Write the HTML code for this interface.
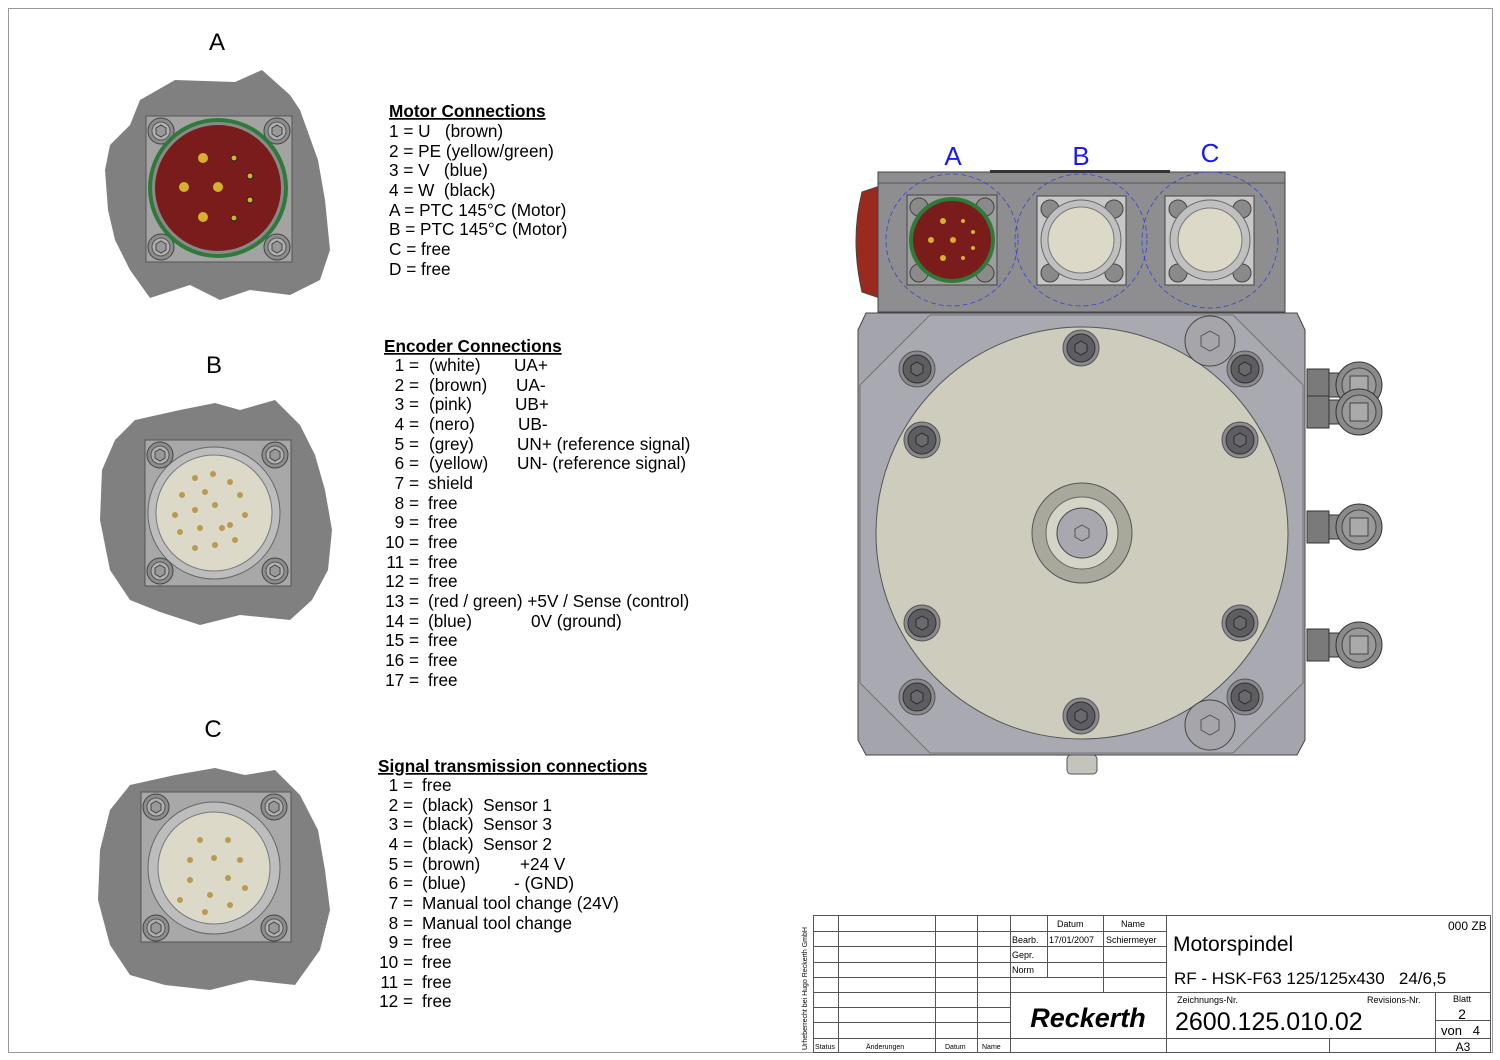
<!DOCTYPE html>
<html><head><meta charset="utf-8"><style>
html,body{margin:0;padding:0;background:#fff}
svg{display:block}
text{font-family:"Liberation Sans",Arial,sans-serif;fill:#000}
</style></head><body>
<svg width="1500" height="1060" viewBox="0 0 1500 1060" xmlns="http://www.w3.org/2000/svg">
<defs>
<g id="bolt"><circle r="18" fill="#8a8a8e" stroke="#555" stroke-width="1"/><circle r="14" fill="#5e5e62" stroke="#333" stroke-width="1"/><polygon points="0,-7 6,-3.5 6,3.5 0,7 -6,3.5 -6,-3.5" fill="#6a6a6e" stroke="#2a2a2a"/></g>
<g id="sbolt"><circle r="13" fill="#8c8c8c" stroke="#444"/><circle r="9" fill="#b0b0b0" stroke="#555"/><polygon points="0,-6 5,-3 5,3 0,6 -5,3 -5,-3" fill="#999" stroke="#444"/></g>
<g id="fit"><rect x="0" y="-16" width="22" height="32" fill="#7a7a7a" stroke="#333"/><rect x="22" y="-12" width="30" height="24" fill="#888" stroke="#333"/><circle cx="52" cy="0" r="23" fill="#8a8a8a" stroke="#333"/><circle cx="52" cy="0" r="17" fill="#999" stroke="#444"/><rect x="43" y="-9" width="18" height="18" fill="#aaa" stroke="#444"/></g>
</defs>
<rect x="8.5" y="8.5" width="1484" height="1044" fill="none" stroke="#999" stroke-width="1"/>

<text x="217" y="50" font-size="24" text-anchor="middle">A</text>
<text x="214" y="373" font-size="24" text-anchor="middle">B</text>
<text x="213" y="737" font-size="24" text-anchor="middle">C</text>

<polygon points="140,100 175,80 235,82 262,70 290,95 300,110 318,160 325,200 330,250 320,280 290,295 250,290 220,300 190,285 150,298 130,270 115,240 108,210 105,170 110,145 130,125" fill="#808080"/>
<rect x="146" y="116" width="146" height="146" fill="#a3a3a3" stroke="#555"/>
<use href="#sbolt" x="161" y="131"/><use href="#sbolt" x="277" y="131"/><use href="#sbolt" x="161" y="247"/><use href="#sbolt" x="277" y="247"/>
<circle cx="218" cy="188" r="70" fill="#2f7a3a"/><circle cx="218" cy="188" r="66" fill="#8a8a8a"/><circle cx="218" cy="188" r="63" fill="#7a1c1c"/>
<circle cx="203" cy="158" r="5" fill="#d8b030"/><circle cx="184" cy="187" r="5" fill="#d8b030"/><circle cx="218" cy="187" r="5" fill="#d8b030"/><circle cx="203" cy="217" r="5" fill="#d8b030"/>
<circle cx="234" cy="158" r="3" fill="#d8b030" stroke="#222"/><circle cx="250" cy="176" r="3" fill="#d8b030" stroke="#222"/><circle cx="250" cy="200" r="3" fill="#d8b030" stroke="#222"/><circle cx="234" cy="218" r="3" fill="#d8b030" stroke="#222"/>

<polygon points="135,420 180,410 215,403 240,410 275,400 300,425 315,455 325,490 332,530 328,570 312,600 290,620 240,615 200,625 160,612 130,600 110,570 100,520 102,470 115,440" fill="#808080"/>
<rect x="145" y="440" width="146" height="146" fill="#a8a8a8" stroke="#555"/>
<use href="#sbolt" x="160" y="455"/><use href="#sbolt" x="275" y="455"/><use href="#sbolt" x="160" y="571"/><use href="#sbolt" x="275" y="571"/>
<circle cx="214" cy="513" r="66" fill="#bdbdbd" stroke="#666"/><circle cx="214" cy="513" r="58" fill="#ddd9c8" stroke="#777"/>
<g fill="#b89a50"><circle cx="195" cy="478" r="3"/><circle cx="213" cy="474" r="3"/><circle cx="230" cy="482" r="3"/><circle cx="182" cy="495" r="3"/><circle cx="205" cy="492" r="3"/><circle cx="240" cy="495" r="3"/><circle cx="175" cy="515" r="3"/><circle cx="195" cy="510" r="3"/><circle cx="215" cy="505" r="3"/><circle cx="245" cy="515" r="3"/><circle cx="180" cy="532" r="3"/><circle cx="200" cy="528" r="3"/><circle cx="230" cy="525" r="3"/><circle cx="195" cy="548" r="3"/><circle cx="215" cy="545" r="3"/><circle cx="235" cy="540" r="3"/><circle cx="222" cy="528" r="3"/></g>

<polygon points="130,785 175,775 215,768 245,775 275,770 300,795 318,830 325,870 330,910 320,950 295,985 250,980 210,990 165,985 130,975 110,945 98,900 100,850 110,810" fill="#808080"/>
<rect x="141" y="792" width="150" height="150" fill="#a8a8a8" stroke="#555"/>
<use href="#sbolt" x="156" y="807"/><use href="#sbolt" x="274" y="807"/><use href="#sbolt" x="156" y="928"/><use href="#sbolt" x="274" y="928"/>
<circle cx="214" cy="868" r="66" fill="#bdbdbd" stroke="#666"/><circle cx="214" cy="868" r="56" fill="#ddd9c8" stroke="#777"/>
<g fill="#b89a50"><circle cx="200" cy="840" r="3"/><circle cx="228" cy="840" r="3"/><circle cx="190" cy="860" r="3"/><circle cx="214" cy="858" r="3"/><circle cx="240" cy="860" r="3"/><circle cx="190" cy="880" r="3"/><circle cx="228" cy="878" r="3"/><circle cx="180" cy="900" r="3"/><circle cx="210" cy="895" r="3"/><circle cx="230" cy="905" r="3"/><circle cx="245" cy="888" r="3"/><circle cx="205" cy="912" r="3"/></g>

<g font-size="17.2">
<text x="389" y="117" font-weight="bold" text-decoration="underline">Motor Connections</text>
<text x="389" y="137" xml:space="preserve">1 = U   (brown)</text>
<text x="389" y="157">2 = PE (yellow/green)</text>
<text x="389" y="176" xml:space="preserve">3 = V   (blue)</text>
<text x="389" y="196" xml:space="preserve">4 = W  (black)</text>
<text x="389" y="216">A = PTC 145°C (Motor)</text>
<text x="389" y="235">B = PTC 145°C (Motor)</text>
<text x="389" y="255">C = free</text>
<text x="389" y="275">D = free</text>

<text x="384" y="352" font-weight="bold" text-decoration="underline">Encoder Connections</text>
<g text-anchor="end">
<text x="419" y="371">1 =</text><text x="419" y="391">2 =</text><text x="419" y="410">3 =</text><text x="419" y="430">4 =</text><text x="419" y="450">5 =</text><text x="419" y="469">6 =</text><text x="419" y="489">7 =</text><text x="419" y="509">8 =</text><text x="419" y="528">9 =</text><text x="419" y="548">10 =</text><text x="419" y="568">11 =</text><text x="419" y="587">12 =</text><text x="419" y="607">13 =</text><text x="419" y="627">14 =</text><text x="419" y="646">15 =</text><text x="419" y="666">16 =</text><text x="419" y="686">17 =</text>
</g>
<text x="429" y="371">(white)</text><text x="514" y="371">UA+</text>
<text x="429" y="391">(brown)</text><text x="516" y="391">UA-</text>
<text x="429" y="410">(pink)</text><text x="515" y="410">UB+</text>
<text x="429" y="430">(nero)</text><text x="518" y="430">UB-</text>
<text x="429" y="450">(grey)</text><text x="517" y="450">UN+ (reference signal)</text>
<text x="429" y="469">(yellow)</text><text x="517" y="469">UN- (reference signal)</text>
<text x="428" y="489">shield</text>
<text x="428" y="509">free</text><text x="428" y="528">free</text><text x="428" y="548">free</text><text x="428" y="568">free</text><text x="428" y="587">free</text>
<text x="428" y="607">(red / green) +5V / Sense (control)</text>
<text x="428" y="627">(blue)</text><text x="531" y="627">0V (ground)</text>
<text x="428" y="646">free</text><text x="428" y="666">free</text><text x="428" y="686">free</text>

<text x="378" y="772" font-weight="bold" text-decoration="underline">Signal transmission connections</text>
<g text-anchor="end">
<text x="413" y="791">1 =</text><text x="413" y="811">2 =</text><text x="413" y="830">3 =</text><text x="413" y="850">4 =</text><text x="413" y="870">5 =</text><text x="413" y="889">6 =</text><text x="413" y="909">7 =</text><text x="413" y="929">8 =</text><text x="413" y="948">9 =</text><text x="413" y="968">10 =</text><text x="413" y="988">11 =</text><text x="413" y="1007">12 =</text>
</g>
<text x="422" y="791">free</text>
<text x="422" y="811" xml:space="preserve">(black)  Sensor 1</text>
<text x="422" y="830" xml:space="preserve">(black)  Sensor 3</text>
<text x="422" y="850" xml:space="preserve">(black)  Sensor 2</text>
<text x="422" y="870">(brown)</text><text x="520" y="870">+24 V</text>
<text x="422" y="889">(blue)</text><text x="514" y="889">- (GND)</text>
<text x="422" y="909">Manual tool change (24V)</text>
<text x="422" y="929">Manual tool change</text>
<text x="422" y="948">free</text><text x="422" y="968">free</text><text x="422" y="988">free</text><text x="422" y="1007">free</text>
</g>

<path d="M880,186 L862,192 Q850,240 862,292 L880,298 Z" fill="#9a2a1e" stroke="#444"/>
<rect x="878" y="172" width="407" height="140" fill="#8e8e90" stroke="#444"/>
<line x1="878" y1="183" x2="1285" y2="183" stroke="#555"/>
<rect x="990" y="170" width="180" height="3" fill="#333"/>
<rect x="907" y="195" width="90" height="90" fill="#9c9c9c" stroke="#444"/>
<circle cx="919" cy="207" r="9" fill="#8a8a8a" stroke="#444"/><circle cx="985" cy="207" r="9" fill="#8a8a8a" stroke="#444"/><circle cx="919" cy="273" r="9" fill="#8a8a8a" stroke="#444"/><circle cx="985" cy="273" r="9" fill="#8a8a8a" stroke="#444"/>
<circle cx="952" cy="240" r="43" fill="#2f7a3a"/><circle cx="952" cy="240" r="39" fill="#7a1c1c"/>
<g fill="#d8b030"><circle cx="943" cy="221" r="3"/><circle cx="931" cy="240" r="3"/><circle cx="953" cy="240" r="3"/><circle cx="943" cy="258" r="3"/><circle cx="963" cy="221" r="2"/><circle cx="973" cy="232" r="2"/><circle cx="973" cy="248" r="2"/><circle cx="963" cy="258" r="2"/></g>
<rect x="1037" y="196" width="89" height="89" fill="#c8c8c8" stroke="#444"/>
<circle cx="1050" cy="209" r="9" fill="#8a8a8a" stroke="#444"/><circle cx="1114" cy="209" r="9" fill="#8a8a8a" stroke="#444"/><circle cx="1050" cy="273" r="9" fill="#8a8a8a" stroke="#444"/><circle cx="1114" cy="273" r="9" fill="#8a8a8a" stroke="#444"/>
<circle cx="1081" cy="240" r="40" fill="#c0c0c0" stroke="#666"/><circle cx="1081" cy="240" r="33" fill="#ddd9c8" stroke="#777"/>
<rect x="1165" y="196" width="89" height="89" fill="#c8c8c8" stroke="#444"/>
<circle cx="1178" cy="209" r="9" fill="#8a8a8a" stroke="#444"/><circle cx="1242" cy="209" r="9" fill="#8a8a8a" stroke="#444"/><circle cx="1178" cy="273" r="9" fill="#8a8a8a" stroke="#444"/><circle cx="1242" cy="273" r="9" fill="#8a8a8a" stroke="#444"/>
<circle cx="1210" cy="240" r="40" fill="#c0c0c0" stroke="#666"/><circle cx="1210" cy="240" r="32" fill="#ddd9c8" stroke="#777"/>
<g fill="none" stroke="#3344cc" stroke-width="0.8" stroke-dasharray="5,3"><circle cx="952" cy="240" r="66"/><circle cx="1081" cy="240" r="66"/><circle cx="1210" cy="240" r="68"/></g>
<g font-size="26" text-anchor="middle"><text x="953" y="165" style="fill:#1a1aee">A</text><text x="1081" y="165" style="fill:#1a1aee">B</text><text x="1210" y="162" style="fill:#1a1aee">C</text></g>

<path d="M866,313 L1297,313 L1305,330 L1305,740 L1297,755 L866,755 L858,740 L858,330 Z" fill="#a4a4ac" stroke="#444"/>
<path d="M930,315 L1233,315 L1303,385 L1303,683 L1233,753 L930,753 L860,683 L860,385 Z" fill="#a9a9b1" stroke="#666" stroke-width="0.8"/>
<circle cx="1082" cy="533" r="206" fill="#cdccbd" stroke="#555"/>
<circle cx="1082" cy="533" r="50" fill="#a8a89c" stroke="#555"/><circle cx="1082" cy="533" r="36" fill="#d4d4c8" stroke="#666"/><circle cx="1082" cy="533" r="25" fill="#a8a8ae" stroke="#444"/>
<polygon points="1082,525 1089,529 1089,537 1082,541 1075,537 1075,529" fill="none" stroke="#555"/>
<use href="#bolt" x="917" y="369"/><use href="#bolt" x="1245" y="369"/><use href="#bolt" x="917" y="697"/><use href="#bolt" x="1245" y="697"/>
<use href="#bolt" x="1081" y="348"/><use href="#bolt" x="922" y="440"/><use href="#bolt" x="1240" y="440"/><use href="#bolt" x="922" y="623"/><use href="#bolt" x="1240" y="623"/><use href="#bolt" x="1081" y="716"/>
<circle cx="1210" cy="341" r="25" fill="#a6a6aa" stroke="#444"/><polygon points="1210,331 1219,336 1219,346 1210,351 1201,346 1201,336" fill="none" stroke="#555"/>
<circle cx="1210" cy="725" r="25" fill="#a6a6aa" stroke="#444"/><polygon points="1210,715 1219,720 1219,730 1210,735 1201,730 1201,720" fill="none" stroke="#555"/>
<rect x="1067" y="755" width="30" height="19" rx="4" fill="#c4c4bc" stroke="#555"/>
<use href="#fit" x="1307" y="385"/><use href="#fit" x="1307" y="412"/><use href="#fit" x="1307" y="527"/><use href="#fit" x="1307" y="645"/>

<g stroke="#555" stroke-width="1" fill="none">
<rect x="813.5" y="915.5" width="677" height="137"/>
<line x1="838.5" y1="915" x2="838.5" y2="1052"/><line x1="935.5" y1="915" x2="935.5" y2="1052"/><line x1="977.5" y1="915" x2="977.5" y2="1052"/><line x1="1010.5" y1="915" x2="1010.5" y2="1052"/><line x1="1166.5" y1="915" x2="1166.5" y2="1052"/>
<line x1="1047.5" y1="915" x2="1047.5" y2="977"/><line x1="1103.5" y1="915" x2="1103.5" y2="992"/>
<line x1="813" y1="931.5" x2="1166" y2="931.5"/>
<line x1="813" y1="946.5" x2="1166" y2="946.5"/><line x1="813" y1="962.5" x2="1166" y2="962.5"/><line x1="813" y1="977.5" x2="1166" y2="977.5"/>
<line x1="813" y1="992.5" x2="1490" y2="992.5"/><line x1="813" y1="1007.5" x2="1010" y2="1007.5"/><line x1="813" y1="1022.5" x2="1010" y2="1022.5"/>
<line x1="813" y1="1038.5" x2="1490" y2="1038.5"/>
<line x1="1329.5" y1="1038" x2="1329.5" y2="1052"/><line x1="1435.5" y1="992" x2="1435.5" y2="1052"/><line x1="1435" y1="1020.5" x2="1490" y2="1020.5"/>
</g>
<g font-size="9">
<text x="1057" y="927">Datum</text><text x="1121" y="927">Name</text>
<text x="1012" y="943">Bearb.</text><text x="1049" y="943">17/01/2007</text><text x="1106" y="943">Schiermeyer</text>
<text x="1012" y="958">Gepr.</text><text x="1012" y="973">Norm</text>
<text x="815" y="1049" font-size="7">Status</text><text x="866" y="1049" font-size="7">Änderungen</text><text x="945" y="1049" font-size="7">Datum</text><text x="982" y="1049" font-size="7">Name</text>
<text x="1177" y="1003">Zeichnungs-Nr.</text><text x="1367" y="1003">Revisions-Nr.</text>
<text x="1453" y="1002">Blatt</text>
<text x="807" y="1050" font-size="7" transform="rotate(-90 807 1050)">Urheberrecht bei Hugo Reckerth GmbH</text>
</g>
<text x="1448" y="930" font-size="12">000 ZB</text>
<text x="1173" y="951" font-size="21">Motorspindel</text>
<text x="1174" y="984" font-size="17" xml:space="preserve">RF - HSK-F63 125/125x430   24/6,5</text>
<text x="1088" y="1027" font-size="27" font-weight="bold" font-style="italic" text-anchor="middle">Reckerth</text>
<text x="1175" y="1030" font-size="25">2600.125.010.02</text>
<text x="1462" y="1019" font-size="14" text-anchor="middle">2</text>
<text x="1441" y="1035" font-size="13" xml:space="preserve">von   4</text>
<text x="1463" y="1051" font-size="12" text-anchor="middle">A3</text>
</svg>
</body></html>
